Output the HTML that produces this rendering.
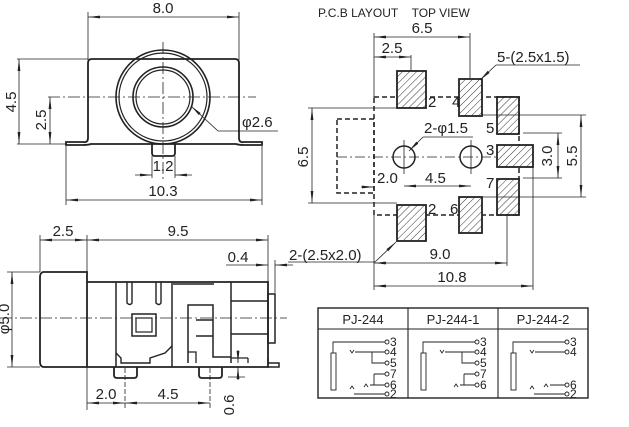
<!DOCTYPE html>
<html><head><meta charset="utf-8"><style>
html,body{margin:0;padding:0;background:#fff;}
svg{display:block;}
text{font-family:"Liberation Sans",sans-serif;fill:#222;}
</style></head><body>
<svg width="629" height="427" viewBox="0 0 629 427" xmlns="http://www.w3.org/2000/svg">
<defs>
<marker id="a" viewBox="0 0 12 4" refX="12" refY="2" markerWidth="12" markerHeight="4" markerUnits="userSpaceOnUse" orient="auto-start-reverse"><path d="M0,0.6 L12,2 L0,3.4z" fill="#222"/></marker>
<pattern id="h" patternUnits="userSpaceOnUse" width="5" height="5" patternTransform="rotate(45)"><rect width="5" height="5" fill="#fff"/><line x1="0" y1="0" x2="0" y2="5" stroke="#333" stroke-width="1"/></pattern>
</defs>
<g stroke="#222" fill="none" stroke-width="1">
<!-- ===== Front view ===== -->
<line x1="88" y1="12" x2="88" y2="60" stroke-width="0.8"/>
<line x1="239" y1="12" x2="239" y2="60" stroke-width="0.8"/>
<line x1="88" y1="17" x2="239" y2="17" stroke-width="0.8" marker-start="url(#a)" marker-end="url(#a)"/>
<path d="M92,59 H235 Q239,59 239,63 V138 Q239,143 244,142 H262 V145 H244 Q239,145 236,144 H91 Q88,145 83,145 H66 V142 H83 Q88,143 88,138 V63 Q88,59 92,59Z" stroke-width="1.8"/>
<circle cx="163" cy="97" r="47" stroke-width="1.6"/>
<circle cx="163" cy="97" r="44" stroke-width="1.2"/>
<circle cx="163" cy="97" r="30" stroke-width="1.6"/>
<circle cx="163" cy="97" r="27" stroke-width="1.2"/>
<path d="M152,144 V153 Q152,156 155,156 H172 Q175,156 175,153 V144" stroke-width="1.8"/>
<line x1="48" y1="97" x2="256" y2="97" stroke-width="0.8" stroke-dasharray="12,3,2,3"/>
<line x1="163" y1="42" x2="163" y2="180" stroke-width="0.8" stroke-dasharray="12,3,2,3"/>
<line x1="17" y1="59" x2="88" y2="59" stroke-width="0.8"/>
<line x1="17" y1="144" x2="66" y2="144" stroke-width="0.8"/>
<line x1="19" y1="59" x2="19" y2="144" stroke-width="0.8" marker-start="url(#a)" marker-end="url(#a)"/>
<line x1="50" y1="97" x2="50" y2="144" stroke-width="0.8" marker-start="url(#a)" marker-end="url(#a)"/>
<line x1="218" y1="131" x2="191" y2="106" stroke-width="0.8" marker-end="url(#a)"/>
<line x1="218" y1="131" x2="278" y2="131" stroke-width="0.8"/>
<line x1="152" y1="156" x2="152" y2="178" stroke-width="0.8"/>
<line x1="175" y1="156" x2="175" y2="178" stroke-width="0.8"/>
<line x1="135" y1="175" x2="152" y2="175" stroke-width="0.8" marker-end="url(#a)"/>
<line x1="192" y1="175" x2="175" y2="175" stroke-width="0.8" marker-end="url(#a)"/>
<line x1="66" y1="146" x2="66" y2="205" stroke-width="0.8"/>
<line x1="262" y1="146" x2="262" y2="205" stroke-width="0.8"/>
<line x1="66" y1="200" x2="262" y2="200" stroke-width="0.8" marker-start="url(#a)" marker-end="url(#a)"/>

<!-- ===== PCB layout ===== -->
<line x1="374" y1="33" x2="374" y2="98" stroke-width="0.8"/>
<line x1="470" y1="33" x2="470" y2="78" stroke-width="0.8"/>
<line x1="411" y1="55" x2="411" y2="70" stroke-width="0.8"/>
<line x1="374" y1="37" x2="470" y2="37" stroke-width="0.8" marker-start="url(#a)" marker-end="url(#a)"/>
<line x1="374" y1="57" x2="411" y2="57" stroke-width="0.8" marker-start="url(#a)" marker-end="url(#a)"/>
<rect x="374" y="97" width="145" height="118" stroke-width="1.5" stroke-dasharray="5,3"/>
<rect x="337" y="119" width="37" height="74" stroke-width="1.5" stroke-dasharray="5,3"/>
<g fill="url(#h)" stroke-width="1.8">
<rect x="397" y="71" width="29" height="37"/>
<rect x="459" y="79" width="23" height="37"/>
<rect x="497" y="97" width="22" height="37"/>
<rect x="497" y="145" width="36" height="22"/>
<rect x="497" y="179" width="22" height="36"/>
<rect x="459" y="197" width="23" height="36"/>
<rect x="397" y="205" width="29" height="36"/>
</g>
<circle cx="404" cy="157" r="11" stroke-width="1.5"/>
<circle cx="471" cy="157" r="11" stroke-width="1.5"/>
<line x1="337" y1="157" x2="497" y2="157" stroke-width="0.8" stroke-dasharray="10,3,2,3"/>
<line x1="404" y1="140" x2="404" y2="174" stroke-width="0.8"/>
<line x1="471" y1="140" x2="471" y2="174" stroke-width="0.8"/>
<line x1="423" y1="137" x2="473" y2="137" stroke-width="0.8"/>
<line x1="423" y1="137" x2="409" y2="151" stroke-width="0.8" marker-end="url(#a)"/>
<line x1="496" y1="65" x2="580" y2="65" stroke-width="0.8"/>
<line x1="496" y1="65" x2="480" y2="80" stroke-width="0.8" marker-end="url(#a)"/>
<line x1="308" y1="108" x2="397" y2="108" stroke-width="0.8"/>
<line x1="308" y1="203" x2="397" y2="203" stroke-width="0.8"/>
<line x1="312" y1="108" x2="312" y2="203" stroke-width="0.8" marker-start="url(#a)" marker-end="url(#a)"/>
<line x1="361" y1="187" x2="374" y2="187" stroke-width="0.8" marker-end="url(#a)"/>
<line x1="404" y1="186" x2="471" y2="186" stroke-width="0.8" marker-start="url(#a)" marker-end="url(#a)"/>
<line x1="482" y1="115" x2="586" y2="115" stroke-width="0.8"/>
<line x1="482" y1="197" x2="586" y2="197" stroke-width="0.8"/>
<line x1="523" y1="133" x2="562" y2="133" stroke-width="0.8"/>
<line x1="523" y1="178" x2="562" y2="178" stroke-width="0.8"/>
<line x1="558" y1="133" x2="558" y2="178" stroke-width="0.8" marker-start="url(#a)" marker-end="url(#a)"/>
<line x1="581" y1="115" x2="581" y2="197" stroke-width="0.8" marker-start="url(#a)" marker-end="url(#a)"/>
<line x1="374" y1="215" x2="374" y2="290" stroke-width="0.8"/>
<line x1="507" y1="215" x2="507" y2="266" stroke-width="0.8"/>
<line x1="533" y1="167" x2="533" y2="290" stroke-width="0.8"/>
<line x1="374" y1="263" x2="507" y2="263" stroke-width="0.8" marker-start="url(#a)" marker-end="url(#a)"/>
<line x1="374" y1="286" x2="533" y2="286" stroke-width="0.8" marker-start="url(#a)" marker-end="url(#a)"/>
<line x1="288" y1="262" x2="375" y2="262" stroke-width="0.8"/>
<line x1="375" y1="262" x2="396" y2="242" stroke-width="0.8" marker-end="url(#a)"/>

<!-- ===== Side view ===== -->
<line x1="40" y1="235" x2="40" y2="272" stroke-width="0.8"/>
<line x1="87" y1="235" x2="87" y2="282" stroke-width="0.8"/>
<line x1="268" y1="235" x2="268" y2="282" stroke-width="0.8"/>
<line x1="275" y1="260" x2="275" y2="293" stroke-width="0.8"/>
<line x1="40" y1="240" x2="87" y2="240" stroke-width="0.8" marker-start="url(#a)" marker-end="url(#a)"/>
<line x1="87" y1="240" x2="268" y2="240" stroke-width="0.8" marker-start="url(#a)" marker-end="url(#a)"/>
<line x1="226" y1="265" x2="268" y2="265" stroke-width="0.8" marker-end="url(#a)"/>
<line x1="293" y1="265" x2="275" y2="265" stroke-width="0.8" marker-end="url(#a)"/>
<path d="M43,272 H87 V367 H43 Q40,366 40,362 V277 Q40,273 43,272Z" stroke-width="1.8"/>
<path d="M87,282 H268 V367 H87" stroke-width="1.8"/>
<rect x="268" y="294" width="7" height="49" stroke-width="1.5"/>
<path d="M268,363 H279 V367 H268" stroke-width="1.5"/>
<line x1="116" y1="282" x2="116" y2="367" stroke-width="1.5"/>
<line x1="172" y1="282" x2="172" y2="367" stroke-width="1.5"/>
<line x1="231" y1="282" x2="231" y2="363" stroke-width="1.5"/>
<path d="M127,282 V303 Q130,306 132,303 V282 M156,282 V303 Q159,306 161,303 V282" stroke-width="1.4"/>
<line x1="173" y1="284" x2="214" y2="284" stroke-width="1.4"/>
<rect x="132" y="314" width="24" height="22" stroke-width="1.5"/>
<rect x="136" y="318" width="16" height="14" stroke-width="1.2"/>
<path d="M188,363 V305 H213 V357 H231" stroke-width="1.5"/>
<path d="M196,320 H213 M196,336 H213" stroke-width="1.4"/>
<path d="M231,301 H268 M231,334 H268" stroke-width="1.4"/>
<path d="M116,353 L121,358 V363 H150 V358 L165,353 L172,346" stroke-width="1.4"/>
<path d="M188,352 H196 V363 M231,358 H248 M248,358 V363 M268,358 V363" stroke-width="1.3"/>
<path d="M114,367 V375 Q114,378 117,378 H134 Q137,378 137,375 V367" stroke-width="1.8"/>
<path d="M199,367 V375 Q199,378 202,378 H219 Q222,378 222,375 V367" stroke-width="1.8"/>
<line x1="0" y1="318" x2="287" y2="318" stroke-width="0.8" stroke-dasharray="12,3,2,3"/>
<line x1="7" y1="272" x2="40" y2="272" stroke-width="0.8"/>
<line x1="7" y1="367" x2="40" y2="367" stroke-width="0.8"/>
<line x1="12" y1="272" x2="12" y2="367" stroke-width="0.8" marker-start="url(#a)" marker-end="url(#a)"/>
<line x1="87" y1="368" x2="87" y2="410" stroke-width="0.8"/>
<line x1="125" y1="368" x2="125" y2="410" stroke-width="0.8" stroke-dasharray="5,2"/>
<line x1="210" y1="368" x2="210" y2="410" stroke-width="0.8" stroke-dasharray="5,2"/>
<line x1="87" y1="403" x2="125" y2="403" stroke-width="0.8" marker-start="url(#a)" marker-end="url(#a)"/>
<line x1="125" y1="403" x2="210" y2="403" stroke-width="0.8" marker-start="url(#a)" marker-end="url(#a)"/>
<line x1="238" y1="350" x2="238" y2="363" stroke-width="0.8" marker-end="url(#a)"/>
<line x1="238" y1="380" x2="238" y2="367" stroke-width="0.8" marker-end="url(#a)"/>
<line x1="228" y1="377" x2="245" y2="377" stroke-width="0.8"/>

<!-- ===== Table ===== -->
<rect x="318" y="308" width="270" height="90" stroke-width="1.4"/>
<line x1="318" y1="329" x2="588" y2="329" stroke-width="1.1"/>
<line x1="408" y1="308" x2="408" y2="398" stroke-width="1.1"/>
<line x1="498" y1="308" x2="498" y2="398" stroke-width="1.1"/>
</g>

<g stroke="#222" fill="none" stroke-width="0.9">
<g transform="translate(318,0)">
<rect x="13" y="353" width="5" height="37"/>
<path d="M15,353 V342 H67 M37,352 H67 M54,352 V363 H67 M56,374 H67 M56,374 V385 M52,385 H67 M32,389 L34,386 L36,389 M36,394 H67"/>
<path d="M32,350 L34,353 L36,350 M46,387 L48,384 L50,387"/>
<circle cx="69" cy="342" r="2"/><circle cx="69" cy="352" r="2"/><circle cx="69" cy="363" r="2"/><circle cx="69" cy="374" r="2"/><circle cx="69" cy="385" r="2"/><circle cx="69" cy="394" r="2"/>
</g>
<g transform="translate(408,0)">
<rect x="13" y="353" width="5" height="37"/>
<path d="M15,353 V342 H67 M37,352 H67 M54,352 V363 H67 M56,374 H67 M56,374 V385 M52,385 H67"/>
<path d="M32,350 L34,353 L36,350 M46,387 L48,384 L50,387"/>
<circle cx="69" cy="342" r="2"/><circle cx="69" cy="352" r="2"/><circle cx="69" cy="363" r="2"/><circle cx="69" cy="374" r="2"/><circle cx="69" cy="385" r="2"/>
</g>
<g transform="translate(498,0)">
<rect x="13" y="353" width="5" height="37"/>
<path d="M15,353 V342 H67 M37,352 H67 M52,385 H67 M32,389 L34,386 L36,389 M36,394 H67"/>
<path d="M32,350 L34,353 L36,350 M46,387 L48,384 L50,387"/>
<circle cx="69" cy="342" r="2"/><circle cx="69" cy="352" r="2"/><circle cx="69" cy="385" r="2"/><circle cx="69" cy="394" r="2"/>
</g>
</g>
<g font-size="12">
<text x="390" y="346">3</text><text x="390" y="356">4</text><text x="390" y="367">5</text><text x="390" y="378">7</text><text x="390" y="389">6</text><text x="390" y="398">2</text>
<text x="480" y="346">3</text><text x="480" y="356">4</text><text x="480" y="367">5</text><text x="480" y="378">7</text><text x="480" y="389">6</text>
<text x="570" y="346">3</text><text x="570" y="356">4</text><text x="570" y="389">6</text><text x="570" y="398">2</text>
</g>
<g font-size="13" text-anchor="middle">
<text x="363" y="324">PJ-244</text><text x="453" y="324">PJ-244-1</text><text x="543" y="324">PJ-244-2</text>
</g>

<g font-size="15">
<text x="163" y="13" text-anchor="middle">8.0</text>
<text x="242" y="127">φ2.6</text>
<text x="163" y="171" text-anchor="middle">1.2</text>
<text x="163" y="196" text-anchor="middle">10.3</text>
<text transform="translate(16,102) rotate(-90)" text-anchor="middle">4.5</text>
<text transform="translate(46,120) rotate(-90)" text-anchor="middle">2.5</text>
<text x="422" y="33" text-anchor="middle">6.5</text>
<text x="392" y="53" text-anchor="middle">2.5</text>
<text x="497" y="62">5-(2.5x1.5)</text>
<text x="424" y="133">2-φ1.5</text>
<text x="428" y="107">2</text><text x="452" y="107">4</text>
<text x="486" y="133">5</text><text x="486" y="155">3</text><text x="486" y="188">7</text>
<text x="428" y="214">2</text><text x="450" y="214">6</text>
<text x="377" y="183">2.0</text><text x="425" y="183">4.5</text>
<text transform="translate(308,157) rotate(-90)" text-anchor="middle">6.5</text>
<text transform="translate(552,156) rotate(-90)" text-anchor="middle">3.0</text>
<text transform="translate(577,156) rotate(-90)" text-anchor="middle">5.5</text>
<text x="440" y="259" text-anchor="middle">9.0</text>
<text x="452" y="282" text-anchor="middle">10.8</text>
<text x="289" y="260">2-(2.5x2.0)</text>
<text x="63" y="236" text-anchor="middle">2.5</text>
<text x="178" y="236" text-anchor="middle">9.5</text>
<text x="238" y="262" text-anchor="middle">0.4</text>
<text transform="translate(9,319) rotate(-90)" text-anchor="middle">φ5.0</text>
<text x="106" y="399" text-anchor="middle">2.0</text>
<text x="168" y="399" text-anchor="middle">4.5</text>
<text transform="translate(234,405) rotate(-90)" text-anchor="middle">0.6</text>
</g>
<text x="318" y="17" font-size="12">P.C.B LAYOUT&#160;&#160;&#160;&#160;TOP VIEW</text>
</svg>
</body></html>
